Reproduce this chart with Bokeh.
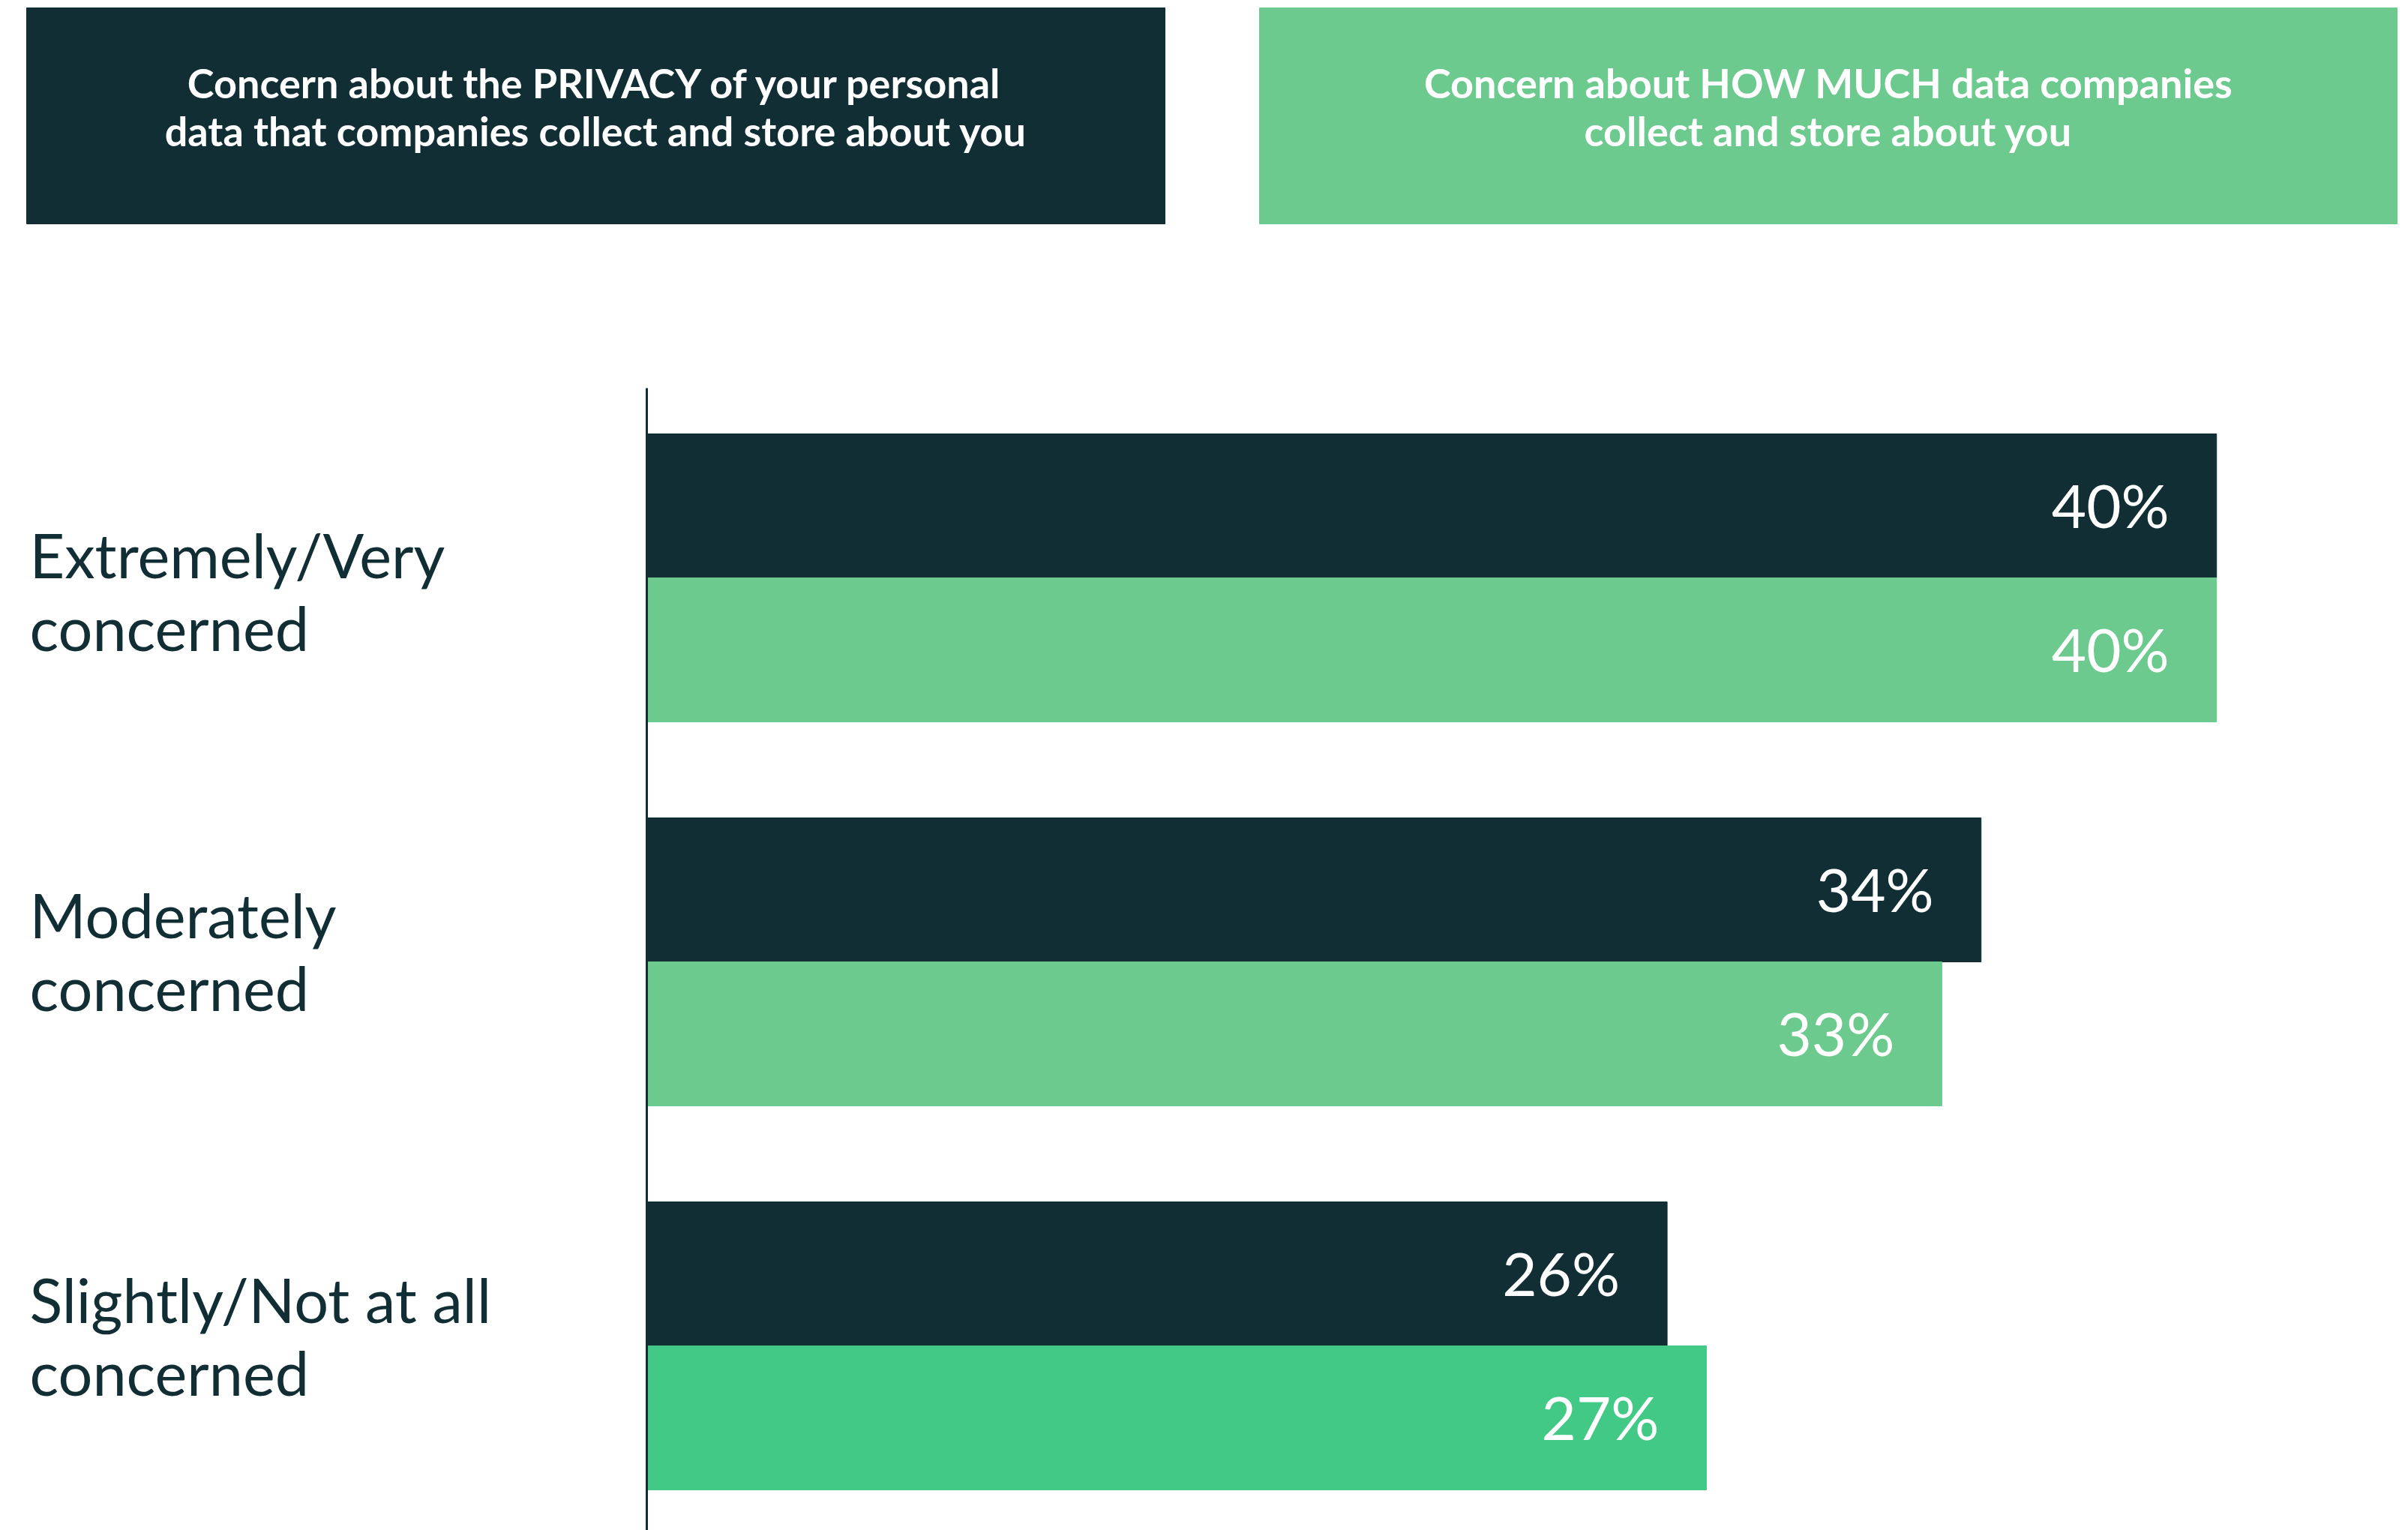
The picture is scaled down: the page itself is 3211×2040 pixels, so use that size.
from bokeh.plotting import figure
from bokeh.models import Range1d, ColumnDataSource
from bokeh.core.properties import value
from bokeh.embed import file_html
from bokeh.resources import INLINE

# ---- data ----
categories = ["Extremely/Very\nconcerned", "Moderately\nconcerned", "Slightly/Not at all\nconcerned"]
privacy = [40, 34, 26]
how_much = [40, 33, 27]
series_names = [
    ["Concern about the PRIVACY of your personal", "data that companies collect and store about you"],
    ["Concern about HOW MUCH data companies", "collect and store about you"],
]

# ---- styles ----
DARK = "#112E35"
GREEN = "#6DCA8F"
BRIGHT = "#42C985"
green_colors = [GREEN, GREEN, BRIGHT]
FONT = "Lato"
BASE_SHIFT = 0.365   # em, compensates renderer baseline placement

W, H = 3211, 2040
X0_PX = 862.0      # pixel of value 0
PX_PER_UNIT = 52.33
Y0_PX = 770.0      # pixel of first group centre
GROUP_PX = 512.0


def xd(px):
    return (px - X0_PX) / PX_PER_UNIT


def yd(py):
    return (Y0_PX - py) / GROUP_PX


p = figure(width=W, height=H, output_backend="svg", toolbar_location=None,
           x_range=Range1d(xd(0), xd(W)), y_range=Range1d(yd(H), yd(0)),
           min_border=0, min_border_left=0, min_border_right=0,
           min_border_top=0, min_border_bottom=0)
p.axis.visible = False
p.grid.visible = False
p.outline_line_color = None
p.background_fill_color = "white"
p.border_fill_color = "white"

n = len(categories)
centers = [-i for i in range(n)]
bar_h = 192.0 / GROUP_PX
y_dark = [c + bar_h / 2 for c in centers]
y_green = [c - bar_h / 2 for c in centers]

src_dark = ColumnDataSource(dict(y=y_dark, v=privacy, lab=[f"{v}%" for v in privacy]))
src_green = ColumnDataSource(dict(y=y_green, v=how_much, lab=[f"{v}%" for v in how_much], c=green_colors))

p.hbar(y="y", left=0, right="v", height=bar_h, color=DARK, source=src_dark)
p.hbar(y="y", left=0, right="v", height=bar_h, color="c", source=src_green)

# value labels
VAL_FS = 80
for src in (src_dark, src_green):
    p.text(x="v", y="y", text="lab", source=src, text_color="white",
           text_font=value(FONT), text_font_size=f"{VAL_FS}px", text_align="right",
           text_baseline="alphabetic", x_offset=-63, y_offset=28 - BASE_SHIFT * VAL_FS)

# axis line
p.segment(x0=[0], y0=[yd(517)], x1=[0], y1=[yd(H)], line_color=DARK, line_width=3)

# category labels
CAT_FS = 81
line1_off = [-1, -33, -32]
lab_x, lab_y, lab_t = [], [], []
for i, cat in enumerate(categories):
    for j, line in enumerate(cat.split("\n")):
        lab_x.append(xd(39))
        lab_y.append(yd(Y0_PX + i * GROUP_PX + line1_off[i] + j * 97 - BASE_SHIFT * CAT_FS))
        lab_t.append(line)
p.text(x=lab_x, y=lab_y, text=lab_t, text_color=DARK, text_font=value(FONT),
       text_font_size=f"{CAT_FS}px", text_align="left", text_baseline="alphabetic")

# header boxes (series legend)
HEAD_FS = 54
boxes = [(35, 1553, DARK), (1679, 3196, GREEN)]
for (l, r, col), lines in zip(boxes, series_names):
    p.quad(left=[xd(l)], right=[xd(r)], top=[yd(10)], bottom=[yd(298)], color=col)
    cx = xd((l + r) / 2)
    sh = BASE_SHIFT * HEAD_FS
    p.text(x=[cx, cx], y=[yd(130 - sh), yd(194 - sh)], text=lines, text_color="white",
           text_font=value(FONT), text_font_style="bold", text_font_size=f"{HEAD_FS}px",
           text_align="center", text_baseline="alphabetic")

open("out.html", "w").write(file_html(p, INLINE))
